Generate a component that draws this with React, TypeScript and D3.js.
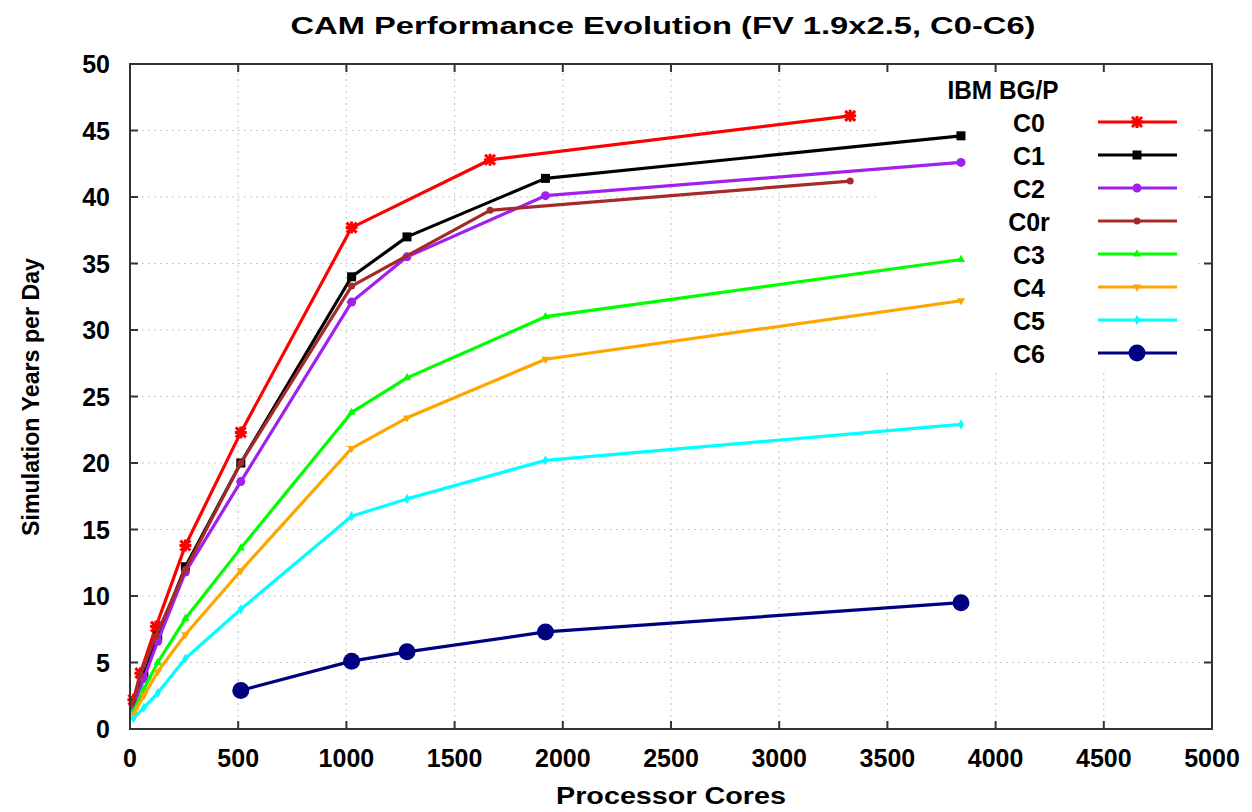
import React, {useEffect, useRef} from 'react';
import * as d3 from "d3"

// data
const seriesNames = ["C0", "C1", "C2", "C0r", "C3", "C4", "C5", "C6"]
const seriesColors = ["#ff0000", "#000000", "#a020f0", "#a52a2a", "#00ff00", "#ffa500", "#00ffff", "#000080"]
const seriesMarkers = ["star", "square", "circle", "dot", "triangle", "triangleDown", "diamond", "bigCircle"]

const c0Cores = [16, 48, 120, 256, 512, 1024, 1664, 3328]
const c0Years = [2.2, 4.2, 7.7, 13.8, 22.3, 37.7, 42.8, 46.1]
const c1Cores = [16, 64, 128, 256, 512, 1024, 1280, 1920, 3840]
const c1Years = [1.9, 4.0, 7.0, 12.2, 20.0, 34.0, 37.0, 41.4, 44.6]
const c2Cores = [16, 64, 128, 256, 512, 1024, 1280, 1920, 3840]
const c2Years = [1.7, 3.8, 6.6, 11.8, 18.6, 32.1, 35.5, 40.1, 42.6]
const c0rCores = [16, 48, 120, 256, 512, 1024, 1664, 3328]
const c0rYears = [2.0, 4.1, 7.0, 12.0, 20.0, 33.3, 39.0, 41.2]
const c3Cores = [16, 64, 128, 256, 512, 1024, 1280, 1920, 3840]
const c3Years = [1.3, 3.0, 5.0, 8.3, 13.6, 23.8, 26.4, 31.0, 35.3]
const c4Cores = [16, 64, 128, 256, 512, 1024, 1280, 1920, 3840]
const c4Years = [1.1, 2.5, 4.3, 7.1, 11.9, 21.1, 23.4, 27.8, 32.2]
const c5Cores = [16, 64, 128, 256, 512, 1024, 1280, 1920, 3840]
const c5Years = [0.8, 1.6, 2.7, 5.3, 9.0, 16.0, 17.3, 20.2, 22.9]
const c6Cores = [512, 1024, 1280, 1920, 3840]
const c6Years = [2.9, 5.1, 5.8, 7.3, 9.5]

const xTicks = [0, 500, 1000, 1500, 2000, 2500, 3000, 3500, 4000, 4500, 5000]
const yTicks = [0, 5, 10, 15, 20, 25, 30, 35, 40, 45, 50]

const allCores = [c0Cores, c1Cores, c2Cores, c0rCores, c3Cores, c4Cores, c5Cores, c6Cores]
const allYears = [c0Years, c1Years, c2Years, c0rYears, c3Years, c4Years, c5Years, c6Years]

const width = 1236
const height = 800
const margin = {left: 122, right: 32, top: 56, bottom: 79}
const font = "'Liberation Sans', Arial, Helvetica, sans-serif"

const drawMarker = (g, kind, x, y, color) => {
    if (kind === "star") {
        const s = 5
        g.append("path")
            .attr("d", `M${x - s},${y - s}L${x + s},${y + s}M${x - s},${y + s}L${x + s},${y - s}M${x - s - 1},${y}L${x + s + 1},${y}M${x},${y - s - 1}L${x},${y + s + 1}`)
            .attr("stroke", color).attr("stroke-width", 3).attr("fill", "none")
    } else if (kind === "square") {
        g.append("rect").attr("x", x - 4.5).attr("y", y - 4.5).attr("width", 9).attr("height", 9).attr("fill", color)
    } else if (kind === "circle") {
        g.append("circle").attr("cx", x).attr("cy", y).attr("r", 4.5).attr("fill", color)
    } else if (kind === "dot") {
        g.append("circle").attr("cx", x).attr("cy", y).attr("r", 3.5).attr("fill", color)
    } else if (kind === "triangle") {
        g.append("path").attr("d", d3.symbol(d3.symbolTriangle, 30)()).attr("transform", `translate(${x},${y})`).attr("fill", color)
    } else if (kind === "triangleDown") {
        g.append("path").attr("d", d3.symbol(d3.symbolTriangle, 30)()).attr("transform", `translate(${x},${y}) rotate(180)`).attr("fill", color)
    } else if (kind === "diamond") {
        g.append("path").attr("d", d3.symbol(d3.symbolDiamond, 30)()).attr("transform", `translate(${x},${y})`).attr("fill", color)
    } else if (kind === "bigCircle") {
        g.append("circle").attr("cx", x).attr("cy", y).attr("r", 8.5).attr("fill", color)
    }
}

const App = () => {
    const svgRef = useRef(null)

    useEffect(() => {
        const svg = d3.select(svgRef.current)
        svg.selectAll("*").remove()

        const x = d3.scaleLinear().domain([0, 5000]).range([margin.left, width - margin.right])
        const y = d3.scaleLinear().domain([0, 50]).range([height - margin.bottom, margin.top])
        const x0 = x(0), x1 = x(5000), y0 = y(0), y1 = y(50)

        // dotted grid
        const grid = svg.append("g").attr("stroke", "#cccccc").attr("stroke-width", 1.2).attr("stroke-dasharray", "2,4")
        xTicks.slice(1, -1).forEach(t => {
            grid.append("line").attr("x1", x(t)).attr("x2", x(t)).attr("y1", y0).attr("y2", y1)
        })
        yTicks.slice(1, -1).forEach(t => {
            grid.append("line").attr("x1", x0).attr("x2", x1).attr("y1", y(t)).attr("y2", y(t))
        })

        // key background hides the grid
        svg.append("rect")
            .attr("x", 872).attr("y", y1 + 2).attr("width", x1 - 872 - 14).attr("height", 306)
            .attr("fill", "white")

        // lines
        const line = d3.line().x(d => x(d[0])).y(d => y(d[1]))
        seriesNames.forEach((name, i) => {
            const pts = allCores[i].map((c, j) => [c, allYears[i][j]])
            svg.append("path")
                .attr("d", line(pts))
                .attr("fill", "none")
                .attr("stroke", seriesColors[i])
                .attr("stroke-width", 3.2)
                .attr("stroke-linejoin", "round")
            const mg = svg.append("g")
            pts.forEach(p => drawMarker(mg, seriesMarkers[i], x(p[0]), y(p[1]), seriesColors[i]))
        })

        // frame and inward ticks
        const axisG = svg.append("g").attr("stroke", "#333").attr("stroke-width", 2)
        axisG.append("rect").attr("x", x0).attr("y", y1).attr("width", x1 - x0).attr("height", y0 - y1).attr("fill", "none")
        xTicks.slice(1, -1).forEach(t => {
            axisG.append("line").attr("x1", x(t)).attr("x2", x(t)).attr("y1", y0).attr("y2", y0 - 8)
            axisG.append("line").attr("x1", x(t)).attr("x2", x(t)).attr("y1", y1).attr("y2", y1 + 8)
        })
        yTicks.slice(1, -1).forEach(t => {
            axisG.append("line").attr("x1", x0).attr("x2", x0 + 8).attr("y1", y(t)).attr("y2", y(t))
            axisG.append("line").attr("x1", x1).attr("x2", x1 - 8).attr("y1", y(t)).attr("y2", y(t))
        })

        // tick labels
        const labels = svg.append("g").attr("font-family", font).attr("font-weight", "bold").attr("font-size", 25).attr("fill", "#000")
        xTicks.forEach(t => {
            labels.append("text").attr("x", x(t)).attr("y", y0 + 38).attr("text-anchor", "middle").text(t)
        })
        yTicks.forEach(t => {
            labels.append("text").attr("x", x0 - 20).attr("y", y(t) + 9).attr("text-anchor", "end").text(t)
        })

        // titles
        svg.append("text")
            .attr("x", 655).attr("y", 26)
            .attr("text-anchor", "middle").attr("font-family", font).attr("font-weight", "bold").attr("font-size", 24)
            .attr("textLength", 745).attr("lengthAdjust", "spacingAndGlyphs")
            .text("CAM Performance Evolution (FV 1.9x2.5, C0-C6)")
        svg.append("text")
            .attr("x", 663).attr("y", height - 4)
            .attr("text-anchor", "middle").attr("font-family", font).attr("font-weight", "bold").attr("font-size", 24)
            .attr("textLength", 230).attr("lengthAdjust", "spacingAndGlyphs")
            .text("Processor Cores")
        svg.append("text")
            .attr("transform", `translate(31, ${389}) rotate(-90)`)
            .attr("text-anchor", "middle").attr("font-family", font).attr("font-weight", "bold").attr("font-size", 23)
            .attr("textLength", 278).attr("lengthAdjust", "spacingAndGlyphs")
            .text("Simulation Years per Day")

        // key
        const key = svg.append("g").attr("font-family", font).attr("font-weight", "bold").attr("font-size", 25)
        key.append("text").attr("x", 995).attr("y", 91).attr("text-anchor", "middle")
            .attr("textLength", 111).attr("lengthAdjust", "spacingAndGlyphs").text("IBM BG/P")
        seriesNames.forEach((name, i) => {
            const ky = 114 + i * 33
            key.append("text").attr("x", 1021).attr("y", ky + 10).attr("text-anchor", "middle").text(name)
            key.append("line").attr("x1", 1090).attr("x2", 1169).attr("y1", ky).attr("y2", ky)
                .attr("stroke", seriesColors[i]).attr("stroke-width", 3.2)
            drawMarker(key, seriesMarkers[i], 1129, ky, seriesColors[i])
        })
    }, [])

    return (
        <svg ref={svgRef} width={width} height={height} style={{display: "block"}}>
        </svg>
    );
};

export default App;
